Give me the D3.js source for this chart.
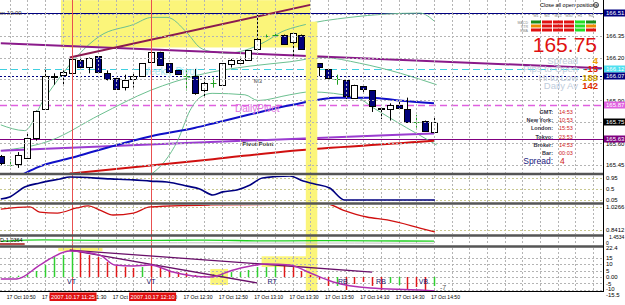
<!DOCTYPE html>
<html><head><meta charset="utf-8">
<script src="https://cdn.jsdelivr.net/npm/d3@7"></script>
<style>body{margin:0;background:#fff}svg{display:block}text{font-family:"Liberation Sans",Arial,sans-serif}</style>
</head><body><svg id="c" width="625" height="305"></svg>
<script>
// ---------------- DATA ----------------
const barTimes = ["10:45","10:50","10:55","11:00","11:05","11:10","11:15","11:20","11:25","11:30","11:35","11:40","11:45","11:50","11:55","12:00","12:05","12:10","12:15","12:20","12:25","12:30","12:35","12:40","12:45","12:50","12:55","13:00","13:05","13:10","13:15","13:20","13:25","13:30","13:35","13:40","13:45","13:50","13:55","14:00","14:05","14:10","14:15","14:20","14:25","14:30","14:35","14:40","14:45","14:50"];
const open  = [165.51,165.45,165.46,165.50,165.64,165.84,166.06,166.08,166.09,166.18,166.14,166.21,166.09,166.06,165.99,166.05,166.07,166.17,166.24,166.16,166.11,166.07,166.07,165.97,166.02,166.01,166.15,166.16,166.18,166.26,166.35,166.36,166.36,166.31,166.36,166.27,166.16,166.12,166.05,166.04,165.92,166.00,165.97,165.85,165.84,165.87,165.84,165.75,165.76,165.68];
const high  = [165.52,165.49,165.54,165.68,165.83,166.13,166.09,166.11,166.19,166.19,166.20,166.21,166.11,166.06,166.08,166.09,166.16,166.24,166.24,166.16,166.11,166.11,166.12,166.06,166.06,166.16,166.19,166.19,166.25,166.50,166.36,166.37,166.36,166.37,166.36,166.27,166.16,166.12,166.08,166.04,166.01,166.01,165.97,165.85,165.88,165.89,165.92,165.80,165.76,165.78];
const low   = [165.45,165.44,165.43,165.50,165.62,165.84,166.01,166.00,166.09,166.12,166.09,166.10,166.04,165.98,165.97,165.99,166.07,166.16,166.15,166.10,166.08,165.97,165.94,165.92,165.99,166.01,166.13,166.16,166.18,166.25,166.34,166.35,166.30,166.20,166.26,166.14,166.07,166.06,166.01,165.91,165.92,165.95,165.82,165.77,165.76,165.85,165.75,165.71,165.69,165.68];
const close = [165.46,165.45,165.52,165.64,165.83,166.07,166.07,166.10,166.19,166.13,166.20,166.10,166.05,165.98,166.04,166.07,166.16,166.24,166.15,166.10,166.08,166.07,165.95,166.02,166.02,166.16,166.18,166.18,166.25,166.33,166.35,166.36,166.30,166.37,166.26,166.15,166.13,166.06,166.05,165.93,166.01,165.98,165.86,165.84,165.87,165.85,165.75,165.75,165.69,165.75];

// indicator lines: [bar index, value]
const bbUpper = [[0,165.73],[2.7,165.69],[4.8,165.90],[6.9,166.08],[8.8,166.22],[11.2,166.35],[15,166.43],[17.1,166.48],[18.8,166.48],[21.1,166.37],[22.5,166.27],[23.9,166.24],[25.6,166.23],[27.6,166.25],[29.9,166.31],[31.8,166.38],[33.8,166.42],[39.5,166.48],[47.4,166.51],[49.1,166.45]];
const bbMiddle = [[0,165.55],[5.6,165.62],[11.2,165.80],[16.9,165.97],[22.5,166.08],[28.2,166.14],[32.7,166.17],[36.4,166.20],[40.6,166.16],[45.2,166.09],[49.3,166.01]];
const bbLower = [[16.9,165.38],[18.6,165.48],[20,165.62],[21.4,165.83],[22.5,165.92],[23.9,165.95],[27.6,165.94],[29.1,165.90],[32.7,165.94],[35,165.96],[40.3,165.92],[42.1,165.85],[45.9,165.71],[49.3,165.59]];
const maBlue = [[2,165.37],[3,165.40],[4,165.43],[8,165.50],[12,165.57],[17,165.65],[22,165.71],[24,165.74],[28,165.80],[33,165.87],[38,165.92],[42,165.92],[45,165.90],[49,165.88]];
const maRed = [[7.8,165.39],[24,165.49],[33,165.55],[47,165.61],[49,165.62]];
const maViolet = [[0,165.55],[23.7,165.61],[49,165.67]];
const trendDown = [[0,166.30],[68,166.125]];
const trendUp = [[7.8,166.20],[35,166.567]];

// horizontal levels
const levelNames = ["top","weekly","m3","daily","pivot"];
const levelPrices = [166.51,166.12,166.07,165.87,165.63];

// highlight boxes [i0,i1,p0,p1]
const mainBoxes = [[6.8,35,166.27,166.60]];

// price axis
const gridPrices = [166.50,166.35,166.20,166.05,165.90,165.75,165.60,165.45];
const axisPlain = [166.35,166.20,165.90,165.60,165.45];
const currentPrice = 165.75;

// sub panel 1 (blue oscillator 0..1)
const osc1 = [[0,0.08],[1,0.17],[2.7,0.58],[4.4,0.75],[6.7,0.92],[7.8,1.0],[12.4,0.92],[15,0.88],[16.9,0.83],[18.8,0.79],[21.1,0.62],[22.5,0.5],[24,0.25],[25.1,0.38],[26.7,0.46],[28.2,0.67],[29.6,0.96],[32.7,1.04],[34.2,0.83],[35.5,0.71],[37.2,0.54],[38.9,0.04],[49.1,0.04]];
const osc1Levels = [0.95,0.5,0.05];
// sub panel 2 (red)
const osc2 = [[0,1.010],[3.3,1.027],[4.4,0.986],[6.4,0.978],[8.6,1.019],[9.9,1.035],[11.2,1.002],[12.7,0.962],[15,0.978],[16.9,1.027],[23.7,1.043],[36.9,1.051],[38.7,1.002],[41.4,0.946],[43.7,0.922],[47.4,0.857],[49.1,0.825]];
const osc2Levels = [1.0266,0.8412];
// sub panel 3 (green / gray)
const osc3Green = [[0,0.55],[4.8,0.85],[11,0.75],[17,0.75],[23,0.8],[30,0.65],[36,0.7],[42,0.65],[49,0.6]];
const osc3Gray = [[8,0.2],[20,0.25],[30,0.2],[40,0.2],[49,0.15]];
// sub panel 4 histogram
const histVals = [0,0.5,1,2,4.6,9.2,15.4,16.9,20,19.2,16.9,15.4,11.5,8.5,7.7,6.9,7.7,9.2,7.7,5.4,3.8,3.1,1.5,1,2,3,3.8,3.8,5.4,7.7,7.7,8.5,8.5,7.7,4.6,1.5,-2,-6.9,-6.9,-10,-5.4,-3.8,-6.9,-10,-4.6,-6.2,-10,-7.7,-11.5,-7];
const histUp = "ggggggggg"+"rrrrrrr"+"g"+"rrrrrrr"+"gggggggg"+"rrrrrr"+"g"+"rrrrr"+"gg"+"rrr"+"g";
const histSignal = [[0,-1.5],[1.8,-1.5],[4.4,9.2],[5.9,15.4],[7.8,20],[11.2,16.9],[12.9,9.2],[15,8.5],[16.9,9.2],[19.5,3.8],[21.7,0.8],[23.7,0],[26.3,5.4],[30.1,10],[32.7,9.2],[35,3.1],[37.6,-3.8],[41.8,-8.5],[47.4,-10],[49.1,-10.8]];
const histTrend1 = [[7.8,20.8],[42,3.8]];
const histTrend2 = [[7.8,20.8],[29,-4.6]];
const histTicks = [22.4,15,10,5,0,-5,-10,-15.5];
const histBoxes = [[6.5,11.5,23.5,20],[23.7,25.7,6.2,-6.2],[29.5,35,16,7.7]];
const histMarks = [["VT",8],["VT",17],["RT",30.7],["RB",38.7],["RB",43],["VB",47.8]];

// time axis
const tickIdx = [1,5,9,13,17,21,25,29,33,37,41,45,49];
const tickLabels = ["17 Oct 10:50","17 Oct 11:10","17 Oct 11:30","17 Oct 11:50","17 Oct 12:10","17 Oct 12:30","17 Oct 12:50","17 Oct 13:10","17 Oct 13:30","17 Oct 13:50","17 Oct 14:10","17 Oct 14:30","17 Oct 14:50"];
const vLines = [[8,"2007.10.17 11:25"],[17,"2007.10.17 12:10"]];

// info panel
const tfNames = ["M1","M5","M15","M30","H1","H4"];
const sigRows = ["MACD","STR","EMA"];
const sigColors = [["#1a8c1a","#e01010","#e01010","#e01010","#22dd22","#1a8c1a"],["#f08a00","#e01010","#e01010","#e01010","#22dd22","#f08a00"],["#e01010","#e01010","#e01010","#e01010","#22dd22","#e01010"]];
const statNames = ["Spread","Pips to Open","Hi to Low","Daily Av"];
const statVals = ["4","-15","189","142"];
const statCols = ["#f0a000","#e02000","#d0a000","#e03000"];
const clockNames = ["GMT:","New York:","London:","Tokyo:","Broker:","Bar:"];
const clockVals = ["14:53","10:53","15:53","23:53","14:53","00:03"];

// ---------------- DRAW ----------------
const svg = d3.select("#c");
const plotR = 603;
const x = d3.scaleLinear().domain([0,49]).range([0.8,434]);
const yM = d3.scaleLinear().domain([165.45,166.35]).range([165,36]);
const y1 = d3.scaleLinear().domain([0,1]).range([201,177]);
const y2 = d3.scaleLinear().domain([0.8412,1.0266]).range([230,207]);
const y3 = d3.scaleLinear().domain([0,1.4534]).range([244,237]);
const y4 = d3.scaleLinear().domain([0,22.4]).range([277,248]);

const panels = [["pm",0,173],["p1",176,202],["p2",205,234],["p3",237,245],["p4",248,291]];
const defs = svg.append("defs");
panels.forEach(([id,a,b])=>defs.append("clipPath").attr("id",id).append("rect").attr("x",0).attr("y",a).attr("width",plotR).attr("height",b-a));

const gm = svg.append("g").attr("clip-path","url(#pm)");
mainBoxes.forEach(b=>gm.append("rect").attr("x",x(b[0])).attr("y",yM(b[3])).attr("width",x(b[1])-x(b[0])).attr("height",yM(b[2])-yM(b[3])).attr("fill","#fbf57a"));
svg.append("rect").attr("x",x(34.5)).attr("y",yM(166.45)).attr("width",x(35.8)-x(34.5)).attr("height",291-yM(166.45)).attr("fill","#fbf57a");
const g4b = svg.append("g").attr("clip-path","url(#p4)");
histBoxes.forEach(b=>g4b.append("rect").attr("x",x(b[0])).attr("y",y4(b[2])).attr("width",x(b[1])-x(b[0])).attr("height",y4(b[3])-y4(b[2])).attr("fill","#fbf57a"));

// grid
const gridIdx = d3.range(1,69,2);
const gg = svg.append("g").attr("stroke","#b4b4b4").attr("stroke-dasharray","2,2").attr("stroke-width",1);
panels.forEach(([id,a,b])=>{
  gridIdx.forEach(i=>gg.append("line").attr("x1",Math.round(x(i))+0.5).attr("x2",Math.round(x(i))+0.5).attr("y1",a).attr("y2",b));
});
gridPrices.forEach(p=>gg.append("line").attr("x1",0).attr("x2",plotR).attr("y1",Math.round(yM(p))+0.5).attr("y2",Math.round(yM(p))+0.5));
const go = svg.append("g").attr("stroke","#c8c890").attr("stroke-dasharray","2,2");
osc1Levels.forEach(v=>go.append("line").attr("x1",0).attr("x2",plotR).attr("y1",Math.round(y1(v))+0.5).attr("y2",Math.round(y1(v))+0.5));
osc2Levels.forEach(v=>go.append("line").attr("x1",0).attr("x2",plotR).attr("y1",Math.round(y2(v))+0.5).attr("y2",Math.round(y2(v))+0.5));
[15,10,5,0,-5,-10].forEach(v=>gg.append("line").attr("x1",0).attr("x2",plotR).attr("y1",Math.round(y4(v))+0.5).attr("y2",Math.round(y4(v))+0.5));

vLines.forEach(([i])=>svg.append("line").attr("x1",Math.round(x(i))+0.5).attr("x2",Math.round(x(i))+0.5).attr("y1",0).attr("y2",291).attr("stroke","#e85050").attr("stroke-width",1));

const lvStyle = {top:["#000080",1,null],weekly:["#40d0e0",1,"7,4"],m3:["#000080",1,"2,2"],daily:["#e060e0",1.5,"7,4"],pivot:["#800080",1,null]};
levelNames.forEach((n,k)=>{
  const s=lvStyle[n];
  gm.append("line").attr("x1",0).attr("x2",plotR).attr("y1",Math.round(yM(levelPrices[k]))+0.5).attr("y2",Math.round(yM(levelPrices[k]))+0.5)
   .attr("stroke",s[0]).attr("stroke-width",s[1]).attr("stroke-dasharray",s[2]);
});

const line = (ys)=>d3.line().x(d=>x(d[0])).y(d=>ys(d[1])).curve(d3.curveMonotoneX);
[bbUpper,bbMiddle,bbLower].forEach(d=>gm.append("path").attr("d",line(yM)(d)).attr("fill","none").attr("stroke","#6cc090").attr("stroke-width",1));
gm.append("path").attr("d",line(yM)(maViolet)).attr("fill","none").attr("stroke","#9a3cd0").attr("stroke-width",2);
gm.append("path").attr("d",line(yM)(maRed)).attr("fill","none").attr("stroke","#d01010").attr("stroke-width",2);
gm.append("path").attr("d",line(yM)(maBlue)).attr("fill","none").attr("stroke","#1010c8").attr("stroke-width",2);
gm.append("path").attr("d",d3.line().x(d=>x(d[0])).y(d=>yM(d[1]))(trendDown)).attr("fill","none").attr("stroke","#8a1a8a").attr("stroke-width",2);
gm.append("path").attr("d",d3.line().x(d=>x(d[0])).y(d=>yM(d[1]))(trendUp)).attr("fill","none").attr("stroke","#8a1a50").attr("stroke-width",2);

gm.append("text").attr("x",140).attr("y",yM(166.12)+6).attr("font-size",10).attr("fill","#a8e4ee").text("Weekly Pivot");
gm.append("text").attr("x",x(28.6)).attr("y",yM(166.07)+7).attr("font-size",6).attr("fill","#444").text("M3");
gm.append("text").attr("x",x(26.5)).attr("y",yM(165.87)+7).attr("font-size",10).attr("fill","#e070e0").text("DailyPivot");
gm.append("text").attr("x",x(27.3)).attr("y",yM(165.63)+7).attr("font-size",6).attr("font-weight","bold").attr("fill","#333").text("Pivot Point");
gm.append("text").attr("x",0).attr("y",yM(166.51)+2).attr("font-size",6).attr("fill","#333").text("m 10:00");

// candles
const gc = gm.append("g");
const bw = 6;
d3.range(open.length).forEach(i=>{
  const cx = Math.round(x(i))+0.5;
  const doji = open[i]===close[i];
  const wickCol = doji ? "#20a020" : "#000";
  gc.append("line").attr("x1",cx).attr("x2",cx).attr("y1",yM(high[i])).attr("y2",yM(low[i])).attr("stroke",wickCol);
  if(doji){
    gc.append("line").attr("x1",cx-3).attr("x2",cx+3).attr("y1",Math.round(yM(open[i]))+0.5).attr("y2",Math.round(yM(open[i]))+0.5).attr("stroke","#20a020");
  } else {
    const t = yM(Math.max(open[i],close[i])), b = yM(Math.min(open[i],close[i]));
    gc.append("rect").attr("x",cx-bw/2).attr("y",Math.round(t)+0.5).attr("width",bw).attr("height",Math.max(1,Math.round(b-t)))
      .attr("fill",close[i]>open[i]?"#fff":"#00007a").attr("stroke","#000");
  }
});

svg.append("g").attr("clip-path","url(#p1)").append("path").attr("d",line(y1)(osc1)).attr("fill","none").attr("stroke","#000080").attr("stroke-width",1.6);
svg.append("g").attr("clip-path","url(#p2)").append("path").attr("d",line(y2)(osc2)).attr("fill","none").attr("stroke","#d01010").attr("stroke-width",1.3);
const g3 = svg.append("g").attr("clip-path","url(#p3)");
g3.append("path").attr("d",line(y3)(osc3Gray)).attr("fill","none").attr("stroke","#c0c0c0").attr("stroke-width",1);
g3.append("path").attr("d",line(y3)(osc3Green)).attr("fill","none").attr("stroke","#20d020").attr("stroke-width",1.3);
g3.append("line").attr("x1",0).attr("x2",x(2.7)).attr("y1",244).attr("y2",244).attr("stroke","#a01010").attr("stroke-width",1.5);
g3.append("text").attr("x",0).attr("y",242).attr("font-size",5.5).attr("fill","#000").text("D-1.0364");

const g4 = svg.append("g").attr("clip-path","url(#p4)");
histVals.forEach((v,i)=>{
  const cx = Math.round(x(i))+0.5;
  g4.append("line").attr("x1",cx).attr("x2",cx).attr("y1",y4(0)).attr("y2",y4(v)).attr("stroke",histUp[i]==="g"?"#30d030":"#e01818").attr("stroke-width",1.5);
});
g4.append("path").attr("d",d3.line().x(d=>x(d[0])).y(d=>y4(d[1]))(histTrend1)).attr("fill","none").attr("stroke","#6a106a").attr("stroke-width",1.3);
g4.append("path").attr("d",d3.line().x(d=>x(d[0])).y(d=>y4(d[1]))(histTrend2)).attr("fill","none").attr("stroke","#6a106a").attr("stroke-width",1.3);
g4.append("path").attr("d",line(y4)(histSignal)).attr("fill","none").attr("stroke","#b030b0").attr("stroke-width",1.5);
histMarks.forEach(([t,i])=>g4.append("text").attr("x",x(i)).attr("y",284).attr("text-anchor","middle").attr("font-size",7).attr("fill","#202070").text(t));
g4.append("text").attr("x",x(49)+6).attr("y",290).attr("font-size",7).attr("fill","#555").text("-7");

[174,203.5,235.5,246.5].forEach(yy=>svg.append("line").attr("x1",0).attr("x2",plotR).attr("y1",yy).attr("y2",yy).attr("stroke","#555").attr("stroke-width",2.5));
svg.append("line").attr("x1",0).attr("x2",plotR).attr("y1",291.5).attr("y2",291.5).attr("stroke","#000");
svg.append("line").attr("x1",plotR+0.5).attr("x2",plotR+0.5).attr("y1",0).attr("y2",292).attr("stroke","#000");

// price axis
const ax = svg.append("g").attr("font-size",6);
axisPlain.forEach(p=>ax.append("text").attr("x",606).attr("y",yM(p)+2.2).attr("fill","#000").text(p.toFixed(2)));
const boxLabels = [[166.51,"#000080","#fff"],[166.12,"#50e0f0","#fff"],[166.07,"#000080","#fff"],[165.87,"#e060e0","#fff"],[165.75,"#000","#fff"],[165.63,"#800080","#fff"]];
boxLabels.forEach(([p,bg,fg])=>{
  const yy = Math.round(yM(p));
  ax.append("rect").attr("x",604).attr("y",yy-3.5).attr("width",21).attr("height",7).attr("fill",bg);
  ax.append("text").attr("x",606).attr("y",yy+2.2).attr("fill",fg).text(p.toFixed(2));
});
osc1Levels.forEach(v=>ax.append("text").attr("x",606).attr("y",y1(v)+2.2).text(v));
osc2Levels.forEach(v=>ax.append("text").attr("x",606).attr("y",y2(v)+2.2).text(v));
ax.append("text").attr("x",609).attr("y",239).attr("font-size",5).text("1.4534");
ax.append("text").attr("x",606).attr("y",245).attr("font-size",5).text("0");
histTicks.forEach((v,k)=>ax.append("text").attr("x",606).attr("y",(k===histTicks.length-1?294.5:k===histTicks.length-2?288.5:y4(v))+2.2).text(v===0?"0.00":v));

// time axis
const gt = svg.append("g").attr("font-size",6);
tickIdx.forEach((i,k)=>gt.append("text").attr("x",x(i)-3).attr("y",299).attr("textLength",29).attr("lengthAdjust","spacingAndGlyphs").text(tickLabels[k]));
vLines.forEach(([i,t])=>{
  const cx = x(i)+1.5;
  gt.append("rect").attr("x",cx-23.5).attr("y",292.5).attr("width",47).attr("height",8.5).attr("fill","#e01010");
  gt.append("text").attr("x",cx-22).attr("y",299).attr("textLength",44).attr("lengthAdjust","spacingAndGlyphs").attr("fill","#fff").text(t);
});

// info panel
const ip = svg.append("g");
ip.append("text").attr("x",540).attr("y",7).attr("font-size",5.5).attr("fill","#000").text("Close all open positions");
ip.append("circle").attr("cx",596).attr("cy",5).attr("r",2.5).attr("fill","none").attr("stroke","#444");
const colX = [536,547,558,569,580,591];
tfNames.forEach((t,k)=>ip.append("text").attr("x",colX[k]).attr("y",17).attr("font-size",3.6).attr("text-anchor","middle").attr("fill","#888").text(t));
sigRows.forEach((r,j)=>{
  ip.append("text").attr("x",528).attr("y",23.5+j*4).attr("font-size",3.6).attr("text-anchor","end").attr("fill","#888").text(r);
  sigColors[j].forEach((c,k)=>{
    ip.append("rect").attr("x",colX[k]-5).attr("y",20.5+j*4).attr("width",10).attr("height",3).attr("fill",c);
  });
});
ip.append("text").attr("x",597).attr("y",52).attr("text-anchor","end").attr("font-size",21).attr("fill","#e01010").text(currentPrice.toFixed(2));
statNames.forEach((n,k)=>{
  ip.append("text").attr("x",578).attr("y",64+k*8.3).attr("text-anchor","end").attr("font-size",9.5).attr("fill","#c0ccdc").text(n);
  ip.append("text").attr("x",598).attr("y",64+k*8.3).attr("text-anchor","end").attr("font-size",9.5).attr("font-weight","bold").attr("fill",statCols[k]).text(statVals[k]);
});
clockNames.forEach((n,k)=>{
  ip.append("text").attr("x",553).attr("y",114+k*8.2).attr("text-anchor","end").attr("font-size",5.5).attr("font-weight","bold").attr("fill","#334").text(n);
  ip.append("text").attr("x",559).attr("y",114+k*8.2).attr("font-size",5.5).attr("fill","#d02020").text(clockVals[k]);
});
ip.append("text").attr("x",553).attr("y",164).attr("text-anchor","end").attr("font-size",8.5).attr("fill","#202080").text("Spread:");
ip.append("text").attr("x",560).attr("y",164).attr("font-size",8.5).attr("fill","#d02020").text("4");
</script></body></html>
